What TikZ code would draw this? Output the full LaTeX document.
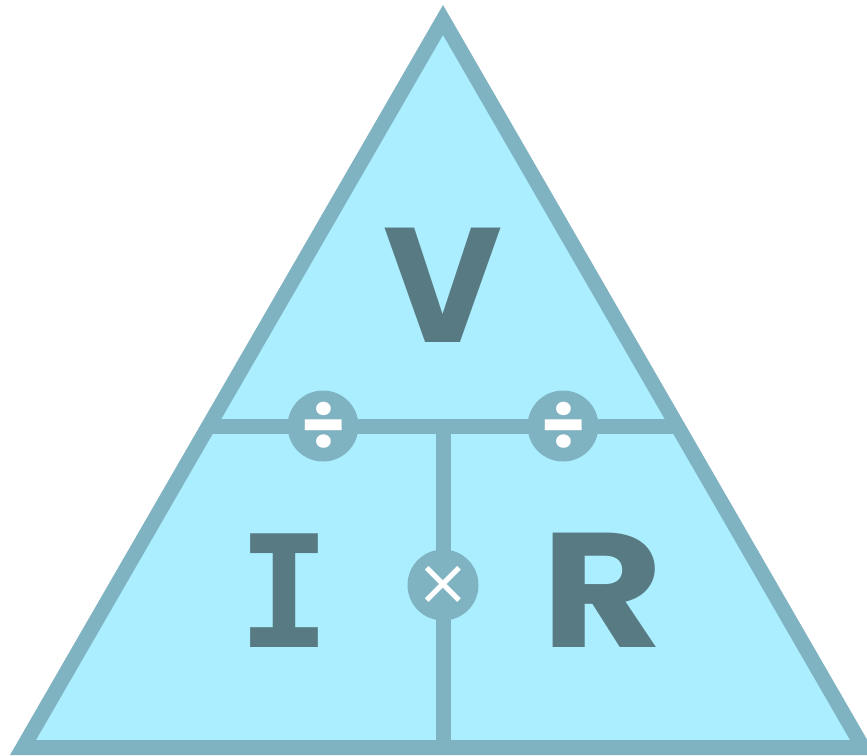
\documentclass[tikz,border=0pt]{standalone}
\usepackage{fontspec}
\usepackage{xcolor}
\usepackage{tikz}
\usetikzlibrary{positioning}

\setmainfont{Poppins}
\newfontfamily\slabfont{DejaVu Sans Mono}
\newfontfamily\symfont{DejaVu Sans}

\definecolor{fillblue}{RGB}{170,238,255}
\definecolor{lineblue}{RGB}{128,179,193}
\definecolor{letterblue}{RGB}{88,122,130}

\begin{document}
\begin{tikzpicture}[
  x=1pt, y=-1pt,
  triangle/.style={draw=lineblue, fill=fillblue, line width=15pt, line join=miter},
  divider/.style={draw=lineblue, line width=15pt},
  operator/.style={circle, fill=lineblue, minimum size=71pt, inner sep=0pt,
                   text=white, font=\symfont\fontsize{64}{64}\selectfont},
  divide/.style={operator, font=\bfseries\fontsize{72}{72}\selectfont},
  quantity/.style={text=letterblue, inner sep=0pt, anchor=base,
                   font=\bfseries\fontsize{163}{163}\selectfont},
]
  \useasboundingbox (0,0) rectangle (867,755);

  % ── corners of the triangle ──
  \coordinate (apex) at (443,20);
  \coordinate (left) at (23,747.5);
  \coordinate (right) at (863,747.5);

  % ── dividers ──
  \coordinate (hleft) at (208.6,426);
  \coordinate (hright) at (677.4,426);
  \coordinate (hmid) at (443,426);
  \coordinate (base) at (443,747.5);

  \draw[triangle] (apex) -- (left) -- (right) -- cycle;
  \draw[divider] (hleft) -- (hright);
  \draw[divider] (hmid) -- (base);

  % ── operators ──
  \node[divide] (divI) at (323,426) {÷};
  \node[divide] (divR) at (563,426) {÷};
  \node[operator] (times) at (443,585) {×};

  % ── quantities ──
  \node[quantity] (V) at (443,342) {V};
  \node[quantity, font=\slabfont\bfseries\fontsize{156}{156}\selectfont] (I) at (284,647) {I};
  \node[quantity, xscale=1.15, transform shape] (R) at (602.5,647) {R};
\end{tikzpicture}
\end{document}
